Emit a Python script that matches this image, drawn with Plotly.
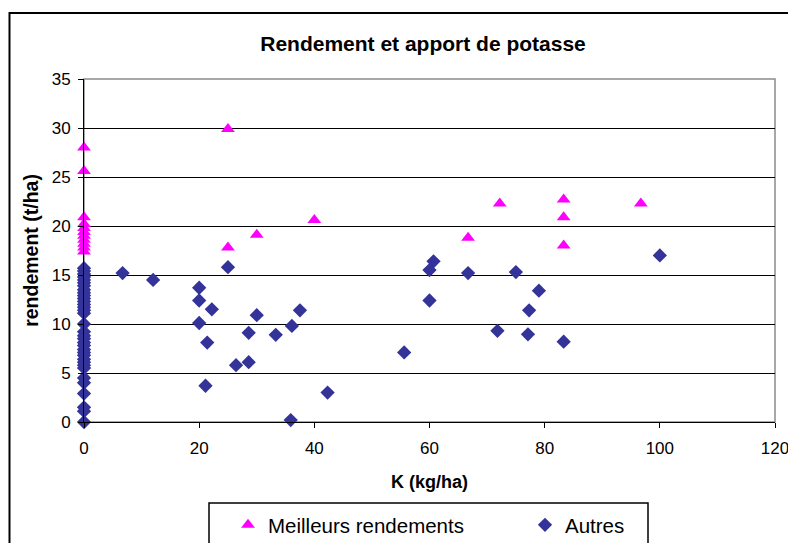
import plotly.graph_objects as go

# Meilleurs rendements (triangles magenta)
best_k = [0, 0, 0, 0, 0, 0, 0, 0, 0, 0, 0,
          25, 25, 30, 40, 66.7, 72.2, 83.3, 83.3, 83.3, 96.7]
best_y = [28.0, 25.6, 20.9, 20.2, 19.8, 19.4, 19.0, 18.6, 18.2, 17.8, 17.4,
          29.9, 17.8, 19.1, 20.6, 18.8, 22.3, 22.7, 20.9, 18.0, 22.3]

# Autres (losanges bleus)
other_k_zero = [0] * 35
other_y_zero = [15.7, 15.4, 15.1, 14.8, 14.5, 14.2, 13.9, 13.5, 13.2, 12.9,
                12.6, 12.3, 12.0, 11.7, 11.4, 11.1, 10.0, 9.2, 8.8, 8.5,
                8.1, 7.8, 7.4, 7.1, 6.8, 6.4, 6.1, 5.8, 5.5, 4.5,
                4.0, 2.9, 1.5, 1.1, 0.0]
other_k = [6.7, 12, 20, 20, 22.2, 20, 21.4, 25, 30, 28.6,
           26.4, 28.6, 33.3, 36.1, 37.5, 21.1, 42.3, 35.9,
           55.6, 60.7, 60, 60, 66.7, 71.8, 75, 79, 77.3, 77.1, 83.3, 100]
other_y = [15.2, 14.5, 13.7, 12.4, 11.5, 10.1, 8.1, 15.8, 10.9, 9.1,
           5.8, 6.1, 8.9, 9.8, 11.4, 3.7, 3.0, 0.2,
           7.1, 16.4, 15.5, 12.4, 15.2, 9.3, 15.3, 13.4, 11.4, 8.95, 8.2, 17.0]

x_ticks = [0, 20, 40, 60, 80, 100, 120]
y_ticks = [0, 5, 10, 15, 20, 25, 30, 35]

font_family = "Liberation Sans, Arial, sans-serif"

# the page body adds an 8px offset, so work in page pixels minus 8
OFF = 8
W, H = 796 - OFF, 543 - OFF
PL, PR, PT, PB = 84 - OFF, 775 - OFF, 79 - OFF, 422 - OFF
PW, PH = PR - PL, PB - PT


def px_x(x):
    # page pixel -> paper x
    return (x - OFF - PL) / PW


def px_y(y):
    # page pixel -> paper y
    return (PB - (y - OFF)) / PH


fig = go.Figure()

fig.add_trace(go.Scatter(
    x=best_k, y=best_y, mode='markers', name='Meilleurs rendements',
    marker=dict(symbol='triangle-up', size=12, color='#ff00ff'),
    cliponaxis=False
))

fig.add_trace(go.Scatter(
    x=other_k_zero + other_k, y=other_y_zero + other_y, mode='markers', name='Autres',
    marker=dict(symbol='diamond', size=11, color='#333399'),
    cliponaxis=False
))

# plot area border (gray), outer chart border, legend box
fig.add_shape(type='rect', xref='paper', yref='paper', x0=0, y0=0, x1=1, y1=1,
              line=dict(color='#8c8c8c', width=1.5), layer='below')
fig.add_shape(type='rect', xref='paper', yref='paper',
              x0=px_x(9.5), y0=px_y(560), x1=px_x(820), y1=px_y(13),
              line=dict(color='black', width=2))
fig.add_shape(type='rect', xref='paper', yref='paper',
              x0=px_x(209), y0=px_y(560), x1=px_x(648), y1=px_y(503),
              line=dict(color='black', width=1.5))

fig.update_layout(
    width=W, height=H,
    margin=dict(l=PL, r=W - PR, t=PT, b=H - PB, autoexpand=False),
    paper_bgcolor='white', plot_bgcolor='white',
    font=dict(family=font_family, size=17, color='black'),
    title=dict(text='<b>Rendement et apport de potasse</b>', x=(423 - OFF) / W, xanchor='center',
               y=1 - (44 - OFF) / H, yanchor='middle', font=dict(size=21)),
    showlegend=True,
    legend=dict(orientation='h', x=px_x(228), xanchor='left',
                y=px_y(505), yanchor='top',
                borderwidth=0, bgcolor='rgba(0,0,0,0)',
                font=dict(size=20.5), entrywidth=252, itemsizing='trace')
)

fig.update_xaxes(
    range=[0, 120], tickvals=x_ticks, showgrid=False, zeroline=False,
    showline=True, linecolor='black', linewidth=1,
    ticks='outside', ticklen=5, tickcolor='black', ticklabelstandoff=6,
    title=dict(text='<b>K (kg/ha)</b>', font=dict(size=18), standoff=17)
)
fig.update_yaxes(
    range=[0, 35], tickvals=y_ticks, showgrid=True, gridcolor='black', gridwidth=1,
    zeroline=False, showline=True, linecolor='black', linewidth=1,
    ticks='outside', ticklen=5, tickcolor='black', ticklabelstandoff=4,
    title=dict(text='<b>rendement (t/ha)</b>', font=dict(size=19.5), standoff=7)
)

fig.write_html("out.html")
